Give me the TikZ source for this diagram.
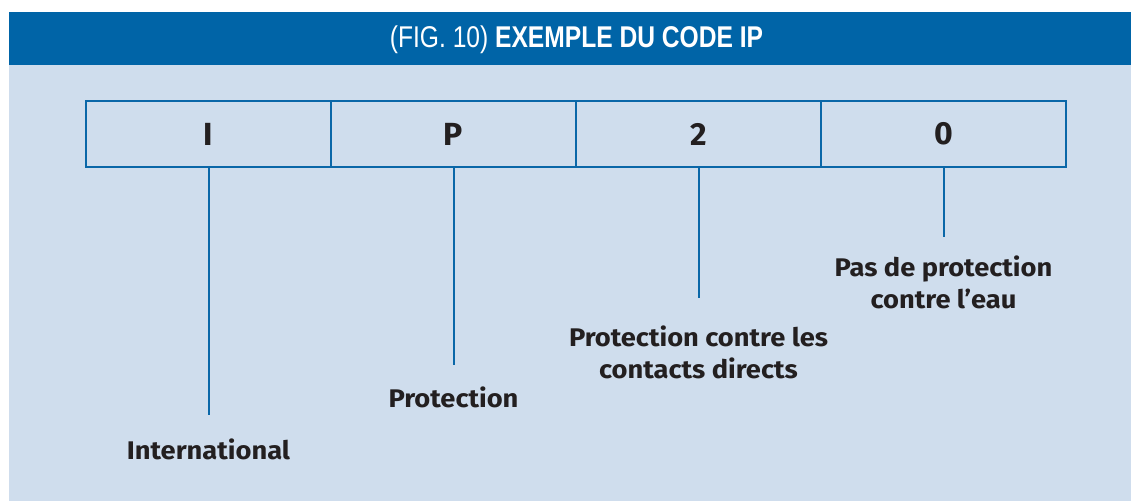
\documentclass[tikz,border=0pt]{standalone}
\usepackage{fontspec}
\usetikzlibrary{positioning}
\newfontfamily\lblfont{Fira Sans}
\newfontfamily\descfont[FakeStretch=1.07]{Fira Sans}
\newfontfamily\ttlfont[FakeStretch=0.82]{Liberation Sans}
\definecolor{ipblue}{HTML}{0064A7}
\definecolor{ipline}{HTML}{0A67A8}
\definecolor{ipback}{HTML}{CFDDED}
\definecolor{ipink}{HTML}{231F20}
\tikzset{
  cell/.style={draw=ipline, line width=2pt, minimum width=245pt, minimum height=66pt,
    outer sep=0pt, inner sep=0pt, text=ipink, font=\lblfont\bfseries\fontsize{32}{32}\selectfont},
  lead/.style={draw=ipline, line width=2pt},
  desc/.style={text=ipink, inner sep=0pt, align=center,
    font=\descfont\bfseries\fontsize{25.5}{32}\selectfont}
}

\begin{document}
\begin{tikzpicture}[x=1pt, y=1pt, node distance=20pt]
    \useasboundingbox (0,0) rectangle (1131,-501);
    \fill[ipback] (9,-65) rectangle (1131,-501);
    \fill[ipblue] (9,-12) rectangle (1131,-65);
    \node[text=white, font=\ttlfont\fontsize{30}{30}\selectfont] (title) at (576.5,-40)
      {(FIG. 10) \textbf{EXEMPLE DU CODE IP}};

    \node[cell] (cI) at (208.5,-134) {I};
    \node[cell, right=0pt of cI] (cP) {P};
    \node[cell, right=0pt of cP] (c2) {2};
    \node[cell, right=0pt of c2] (c0) {0};

    \coordinate[below=248pt of cI.south] (eI);
    \coordinate[below=198pt of cP.south] (eP);
    \coordinate[below=131pt of c2.south] (e2);
    \coordinate[below=70pt of c0.south] (e0);

    \draw[lead] (cI.south) -- (eI);
    \draw[lead] (cP.south) -- (eP);
    \draw[lead] (c2.south) -- (e2);
    \draw[lead] (c0.south) -- (e0);

    \node[desc, below=24pt of eI] (tI) {International};
    \node[desc, below=22pt of eP] (tP) {Protection};
    \node[desc, below=28pt of e2] (t2) {Protection contre les\\contacts directs};
    \node[desc, below=19pt of e0] (t0) {Pas de protection\\contre l’eau};
\end{tikzpicture}
\end{document}
